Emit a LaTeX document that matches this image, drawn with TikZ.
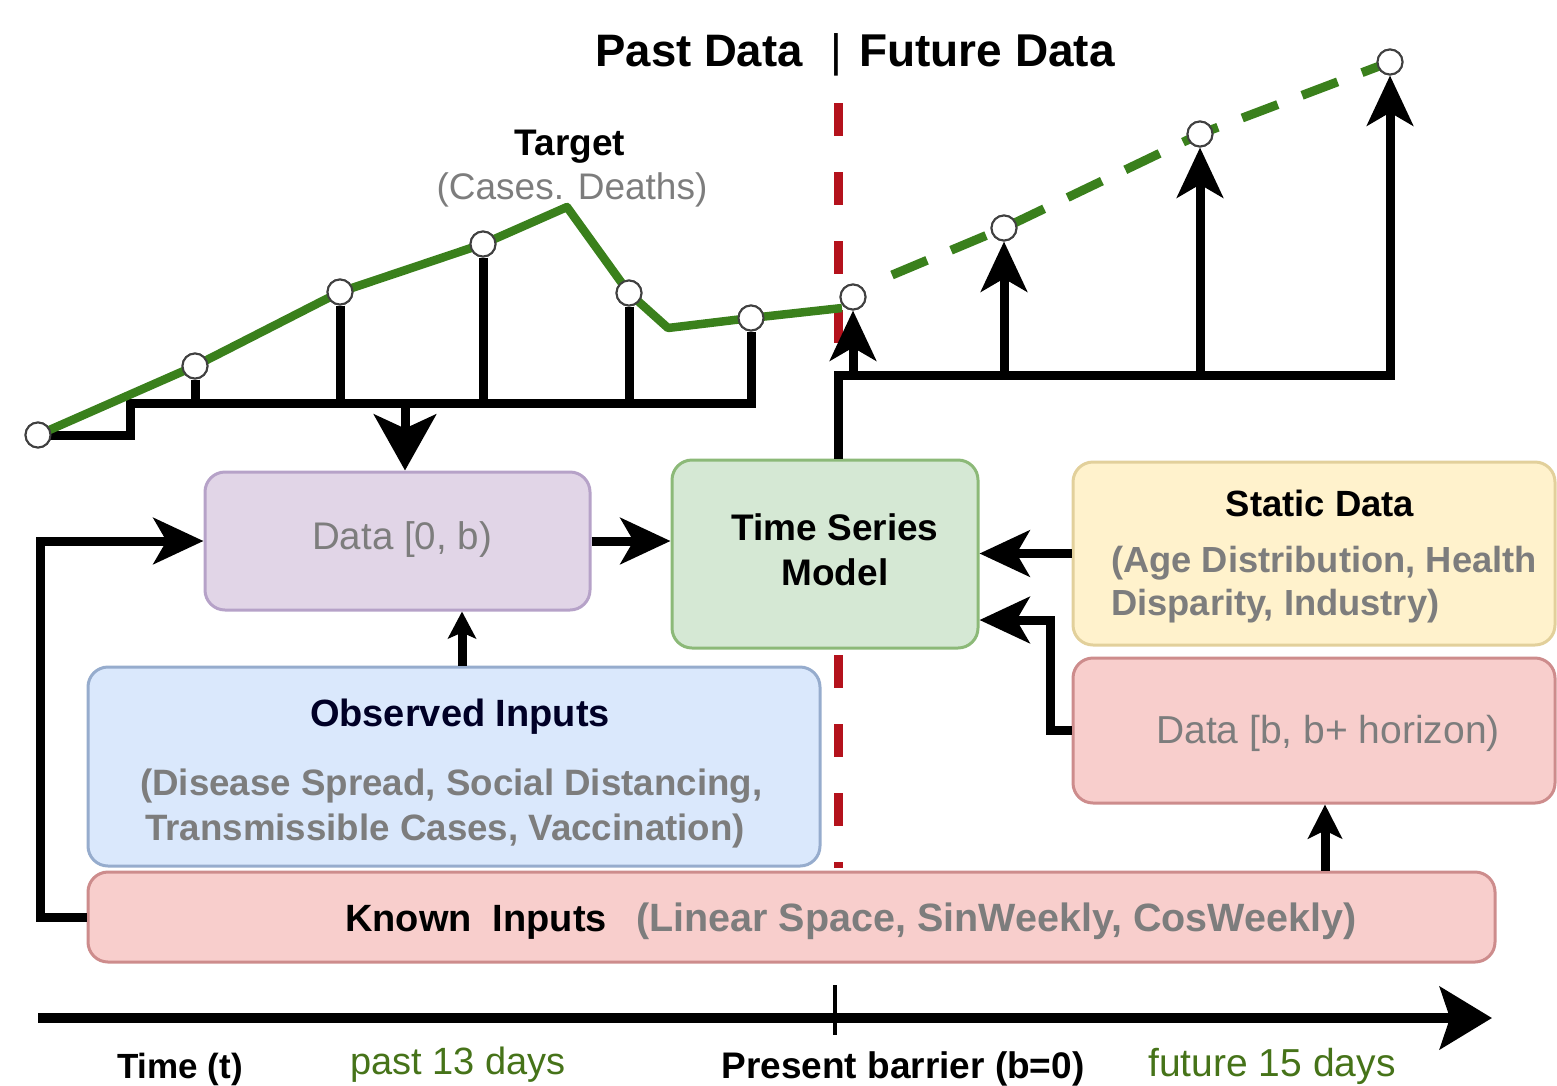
\documentclass[tikz,border=0pt]{standalone}
\usepackage{fontspec}
\setmainfont{Liberation Sans}
\usetikzlibrary{arrows.meta,calc}
\definecolor{tgreen}{RGB}{58,128,28}
\definecolor{bred}{RGB}{180,18,28}
\definecolor{txtgray}{RGB}{125,125,125}
\definecolor{lblgreen}{RGB}{70,115,25}
\definecolor{purpleF}{RGB}{225,213,231}
\definecolor{purpleD}{RGB}{182,162,200}
\definecolor{greenF}{RGB}{213,232,212}
\definecolor{greenD}{RGB}{140,185,120}
\definecolor{yellowF}{RGB}{255,242,204}
\definecolor{yellowD}{RGB}{226,208,155}
\definecolor{redF}{RGB}{248,206,204}
\definecolor{redD}{RGB}{205,140,140}
\definecolor{blueF}{RGB}{218,232,252}
\definecolor{blueD}{RGB}{150,172,205}
\begin{document}
\begin{tikzpicture}[x=1pt,y=-1pt,
  box/.style={draw, line width=3pt, rounded corners=20pt, inner sep=0pt},
  conn/.style={line width=9pt, black},
  arr/.style={conn, -{Stealth[length=50pt, width=46pt, inset=13pt]}},
  bigarr/.style={conn, -{Stealth[length=56pt, width=62pt, inset=14pt]}},
  midarr/.style={conn, -{Stealth[length=34pt, width=34pt, inset=8pt]}},
  smallarr/.style={conn, -{Stealth[length=27pt, width=28pt, inset=6pt]}},
  dot/.style={circle, draw=black!75, fill=white, line width=2pt, minimum size=25pt, inner sep=0pt},
  txt/.style={inner sep=0pt},
]
\useasboundingbox (0,0) rectangle (1557,1085);

% title
\node[txt, font=\bfseries\fontsize{45.5}{52}\selectfont, anchor=base east] (tpast) at (803,66) {Past Data};
\node[txt, font=\fontsize{45.5}{52}\selectfont, anchor=base] (tbar) at (836,66) {|};
\node[txt, font=\bfseries\fontsize{46}{52}\selectfont, anchor=base west] (tfut) at (859,66) {Future Data};

% present barrier (red dashed)
\coordinate (rtop) at (838,103);
\coordinate (rbot) at (838,868);
\draw[bred, line width=9pt, dash pattern=on 33pt off 36pt] (rtop) -- (rbot);

% target label
\node[txt, font=\bfseries\fontsize{37}{44}\selectfont, anchor=base] (tgt) at (570,155) {Target};
\node[txt, font=\fontsize{37}{44}\selectfont, text=txtgray, anchor=base] (tgtsub) at (572,199) {(Cases. Deaths)};

% target points
\node[dot] (p0) at (38,435) {};
\node[dot] (p1) at (195,366) {};
\node[dot] (p2) at (340,292) {};
\node[dot] (p3) at (483,244) {};
\coordinate (pk) at (567,207);
\node[dot] (p4) at (629,293) {};
\coordinate (vl) at (668,328);
\node[dot] (p5) at (751,318) {};
\coordinate (pe) at (842,308);
\node[dot] (p6) at (853,297) {};
\node[dot] (f1) at (1004,228) {};
\node[dot] (f2) at (1200,134) {};
\node[dot] (f3) at (1390,62) {};
\coordinate (fs) at (892,275);

% black stems (past)
\coordinate (b0) at (130,435);
\coordinate (b1) at (130,403);
\coordinate (b2) at (751,403);
\draw[conn, line join=miter] (p0.center) -- (b0) -- (b1) -- (b2) -- (p5.south);
\foreach \p in {p1,p2,p3,p4} { \draw[conn] (\p.south) -- (\p |- b1); }

% green series
\draw[tgreen, line width=8.5pt, line join=round] (p0.center) -- (p1.center) -- (p2.center) -- (p3.center) -- (pk) -- (p4.center) -- (vl) -- (p5.center) -- (pe);
\draw[tgreen, line width=9pt, dash pattern=on 38pt off 26pt] (fs) -- (f1.center) -- (f2.center) -- (f3.center);

% redraw the circles on top
\foreach \p in {p0,p1,p2,p3,p4,p5,p6,f1,f2,f3} { \node[dot] at (\p) {}; }

% boxes
\node[box, fill=purpleF, draw=purpleD, minimum width=385pt, minimum height=138pt] (d0) at (397.5,541) {};
\node[box, fill=greenF, draw=greenD, minimum width=306pt, minimum height=188pt] (tsm) at (825,554) {};
\node[box, fill=yellowF, draw=yellowD, minimum width=482pt, minimum height=183pt] (stat) at (1314,553.5) {};
\node[box, fill=redF, draw=redD, minimum width=482pt, minimum height=145pt] (db) at (1314,730.5) {};
\node[box, fill=blueF, draw=blueD, minimum width=732pt, minimum height=199pt] (obs) at (454,766.5) {};
\node[box, fill=redF, draw=redD, minimum width=1407pt, minimum height=90pt] (known) at (791.5,917) {};

% box texts
\node[txt, font=\fontsize{38.5}{45}\selectfont, text=txtgray] (d0t) at (402,540) {Data [0, b)};
\node[txt, font=\bfseries\fontsize{37}{45}\selectfont, align=center] (tsmt) at (835,550) {Time Series\\Model};
\node[txt, font=\bfseries\fontsize{36.5}{44}\selectfont] (statt) at (1320,503) {Static Data};
\node[txt, font=\bfseries\fontsize{36.3}{43}\selectfont, text=txtgray, align=left, anchor=west] (stats) at (1111,585) {(Age Distribution, Health\\Disparity, Industry)};
\node[txt, font=\fontsize{39}{45}\selectfont, text=txtgray] (dbt) at (1328,733) {Data [b, b+ horizon)};
\node[txt, font=\bfseries\fontsize{38}{45}\selectfont, text=black!85!blue] (obst) at (460,717) {Observed Inputs};
\node[txt, font=\bfseries\fontsize{36.7}{45}\selectfont, text=txtgray, align=left, anchor=west] (obss) at (140,808) {(Disease Spread, Social Distancing,\\\hspace*{5pt}Transmissible Cases, Vaccination)};
\node[txt, font=\bfseries\fontsize{38}{45}\selectfont, anchor=base west] (knownt) at (345,931) {Known~~Inputs};
\node[txt, font=\bfseries\fontsize{39.5}{45}\selectfont, text=txtgray, anchor=base west] (knowns) at (636,931) {(Linear Space, SinWeekly, CosWeekly)};

% connectors
\coordinate (lp) at (40,917);
\draw[arr, line join=miter] (known.west) -- (lp) |- (d0.west);
\coordinate (ox) at (462,0);
\draw[smallarr] (obs.north -| ox) -- (d0.south -| ox);
\coordinate (dx) at (405,403);
\draw[bigarr] (dx) -- (d0.north -| dx);
\draw[arr] (d0.east) -- (d0.east -| tsm.west);
\draw[arr] (stat.west) -- (stat.west -| tsm.east);
\coordinate (jx) at (1050,620);
\draw[arr, line join=miter] (db.west) -| (jx) -- (jx -| tsm.east);
\coordinate (kx) at (1325,0);
\draw[midarr] (known.north -| kx) -- (db.south -| kx);

% future branch
\coordinate (cu) at (838,375);
\coordinate (cr) at (1390,375);
\draw[arr, line join=miter] (tsm.north -| cu) -- (cu) -- (cr) -- (f3.south);
\draw[arr] (p6 |- cu) -- (p6.south);
\draw[arr] (f1 |- cu) -- (f1.south);
\draw[arr] (f2 |- cu) -- (f2.south);

% time axis
\coordinate (t0) at (38,1018);
\coordinate (t1) at (1492,1018);
\draw[line width=10pt, -{Stealth[length=52pt, width=62pt, inset=10pt]}] (t0) -- (t1);
\coordinate (tk0) at (835,985);
\coordinate (tk1) at (835,1035);
\draw[line width=4.5pt] (tk0) -- (tk1);

% bottom labels
\node[txt, font=\bfseries\fontsize{35}{42}\selectfont, anchor=base] (lt) at (180,1078) {Time (t)};
\node[txt, font=\fontsize{38}{42}\selectfont, text=lblgreen, anchor=base] (lpast) at (458,1074) {past 13 days};
\node[txt, font=\bfseries\fontsize{37}{42}\selectfont, anchor=base] (lpres) at (903,1078) {Present barrier (b=0)};
\node[txt, font=\fontsize{39}{42}\selectfont, text=lblgreen, anchor=base] (lfut) at (1272,1076) {future 15 days};
\end{tikzpicture}
\end{document}
